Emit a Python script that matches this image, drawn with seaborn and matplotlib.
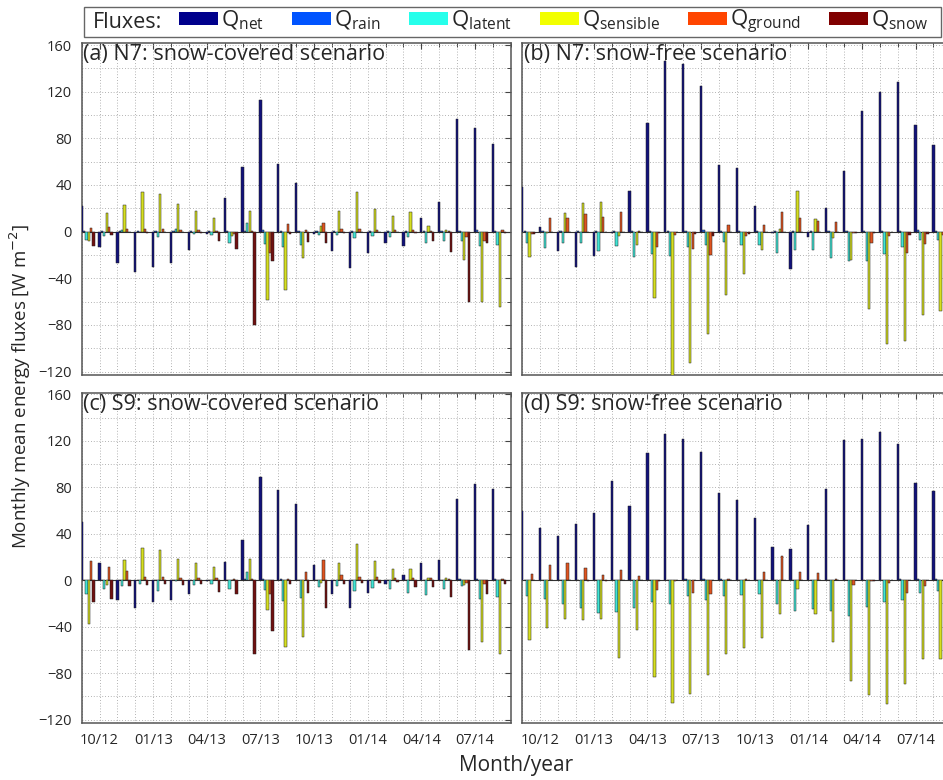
import numpy as np
import pandas as pd
import matplotlib
matplotlib.use("Agg")
import matplotlib.pyplot as plt
from matplotlib.patches import Patch, Rectangle
from matplotlib.ticker import FixedLocator, MultipleLocator
import seaborn as sns

sns.set_style("white")
plt.rcParams["font.family"] = ["Open Sans", "DejaVu Sans"]

# ---- months (Sep 2012 - Aug 2014) and tick labels ----
month_labels = ["09/12", "10/12", "11/12", "12/12", "01/13", "02/13", "03/13", "04/13",
                "05/13", "06/13", "07/13", "08/13", "09/13", "10/13", "11/13", "12/13",
                "01/14", "02/14", "03/14", "04/14", "05/14", "06/14", "07/14", "08/14"]
tick_labels = ["10/12", "01/13", "04/13", "07/13", "10/13", "01/14", "04/14", "07/14"]

flux_labels = [r"Q$_\mathregular{net}$", r"Q$_\mathregular{rain}$", r"Q$_\mathregular{latent}$",
               r"Q$_\mathregular{sensible}$", r"Q$_\mathregular{ground}$", r"Q$_\mathregular{snow}$"]

# ---- (a) N7: snow-covered scenario ----
a_net = [22, -13, -27, -35, -30, -27, -16, -2, 29, 55, 113, 58, 42, -2, -17, -31, -18, -10, -12, 12, 25, 97, 89, 75]
a_rain = [0.3, 0.2, 0.1, 0.1, 0.1, 0.2, 0.2, 0.3, 0.5, 0.8, 1.0, 0.8, 0.5, 0.3, 0.2, 0.1, 0.1, 0.2, 0.2, 0.4, 0.6, 0.9, 1.0, 0.7]
a_latent = [-7, -4, 1, -0.5, -5, 2, -2.3, -3, -9.7, 7.4, -10.9, -13.4, -11.4, -3, -3, -5.4, -3.7, -5, -4.6, -9.7, -7.7, -8.3, -12.6, -11.4]
a_sensible = [-7.7, 16, 23, 34, 32, 24, 18, 11.4, -4, 18, -58.6, -49.7, -22.6, 4.6, 17.4, 34, 19.7, 13, 16.6, 4.9, 1, -24.3, -60, -64.9]
a_ground = [3.4, 4, 2.6, 2, 2, 1, 1, 0.3, -2, 0.5, -18, 6.9, 1, 7.4, 2.6, 2.3, 1.5, 1.5, 1, 0.3, 0.3, -4.9, -7.7, 1.7]
a_snow = [-12, -3, 0, -1, -0.5, 0, -1, -8, -15, -80, -25, -2.3, -9, -10, -1, 0, 0, 0, -1, -7.7, -17.4, -60, -9.7, -1]

# ---- (b) N7: snow-free scenario ----
b_net = [38, 4.3, -16.6, -30.3, -20.6, -1, 35, 93, 146, 144, 124.6, 57, 54.3, 22.3, -1, -31.7, -4.9, 20, 52, 103.7, 119.4, 128.3, 91.4, 74.3]
b_rain = [0.3, 0.2, 0.1, 0.1, 0.1, 0.2, 0.2, 0.3, 0.5, 0.8, 1.0, 0.8, 0.5, 0.3, 0.2, 0.1, 0.1, 0.2, 0.2, 0.4, 0.6, 0.9, 1.0, 0.7]
b_latent = [-9.7, -14.3, -10, -9.4, -17, -12, -21.7, -19, -21, -13.4, -11.4, -8.6, -11.7, -11.7, -18, -16, -15.7, -22.9, -25, -25, -18.9, -13, -7.4, -7.4]
b_sensible = [-22, -1, 16.3, 24.9, 25.7, -3.7, -11.7, -56.9, -124, -113, -88, -54, -36.3, -16, 2.3, 35, 10.9, -5.7, -24.3, -66.6, -96.6, -93.7, -71.4, -68]
b_ground = [-2, 11.4, 11.7, 15.4, 12.3, 17.1, 0.5, -13.4, -2.9, -14.9, -19.7, 5.4, -3.4, 6, 16.9, 12, 9.1, 8, -1, -9.7, -3.4, -18.3, -10.9, -3]
b_snow = [-1.7, 0, 0, 0, 0, 0, 0, -1.1, 0, -2, -3.4, 0, -2, 0, 0, 0, 0, 0, -1, -1, 0, -3, -2, -1]

# ---- (c) S9: snow-covered scenario ----
c_net = [49.7, 14.9, -16.9, -24, -18.6, -17.4, -11.7, -0.5, 16, 34.3, 88.9, 77.4, 65.4, 13.4, -12.3, -24.3, -11.1, -3.1, 4.9, 14.9, 17.4, 70.3, 82.9, 78.3]
c_rain = [0.3, 0.2, 0.1, 0.1, 0.1, 0.2, 0.2, 0.3, 0.5, 0.8, 1.0, 0.8, 0.5, 0.3, 0.2, 0.1, 0.1, 0.2, 0.2, 0.4, 0.6, 0.9, 1.0, 0.7]
c_latent = [-12.3, -7.7, -5.1, -3.4, -8.9, -0.5, -4.3, -3.4, -7.4, 7.4, -8.6, -18, -15, -6, -5.1, -8.9, -6.3, -8, -11.1, -13.1, -7.7, -5.4, -16.6, -14.6]
c_sensible = [-37.4, -4, 17.4, 27.4, 26, 18.3, 15.1, 11.1, 0.5, 18, -25.7, -57.7, -48.6, -2.3, 14.9, 31.1, 16.3, 9.4, 9.4, 1.7, 1.7, -4.3, -53, -63.4]
c_ground = [16.9, 11.4, 8, 2.6, 2.9, 2, 2.3, 1.7, 1.4, 1.4, -12, 0.9, 7.4, 17.4, 4.3, 3.1, 2.6, 2, 1.7, 1.7, 1.4, -2.3, -2.9, 1.1]
c_snow = [-18.6, -16.6, -5.4, -4.3, -2.9, -4.3, -2.9, -10.3, -11.7, -63.4, -43.4, -3.7, -10.9, -24, -2.9, -2.3, -2.6, -1.7, -6, -6, -14.6, -59.7, -12.3, -2.9]

# ---- (d) S9: snow-free scenario ----
d_net = [60, 45.1, 38.3, 48, 57.7, 85.7, 63.7, 109.4, 126.3, 122, 110.6, 75.4, 69.4, 53.4, 28.6, 26.9, 47.7, 78.9, 120.9, 122, 127.4, 116.9, 83.7, 77.1]
d_rain = [0.3, 0.2, 0.1, 0.1, 0.1, 0.2, 0.2, 0.3, 0.5, 0.8, 1.0, 0.8, 0.5, 0.3, 0.2, 0.1, 0.1, 0.2, 0.2, 0.4, 0.6, 0.9, 1.0, 0.7]
d_latent = [-13.4, -16.3, -20.3, -23.7, -28, -27.1, -23.7, -18.6, -20.3, -14, -17.1, -13.4, -12.9, -11.7, -20.6, -26.3, -24.6, -26.6, -30.9, -22.9, -18.6, -16.9, -10.6, -9.1]
d_sensible = [-51.7, -41.4, -33.1, -34.3, -33.7, -67.4, -43.1, -83.4, -106, -98, -82, -63.7, -58.6, -49.4, -28.9, -7.4, -29.1, -52.9, -86.6, -98.9, -106.6, -89.4, -68, -68]
d_ground = [5.7, 13.1, 14.6, 10.3, 4.9, 8.9, 3.4, -8.3, -1, -10.6, -12, 1.1, 1.4, 7.1, 20.9, 7.1, 6.6, 1.1, -4, -1.1, -2.6, -10.9, -5.1, 0.5]
d_snow = [0, 0, 0, -1, -1, 0, 0, -0.5, 0, 0, 0, 0, 0, 0, 0, 0, 0, 0, 0, -1, 0, 0, 0, 0]

panel_titles = ["(a) N7: snow-covered scenario", "(b) N7: snow-free scenario",
                "(c) S9: snow-covered scenario", "(d) S9: snow-free scenario"]
panel_series = [
    [a_net, a_rain, a_latent, a_sensible, a_ground, a_snow],
    [b_net, b_rain, b_latent, b_sensible, b_ground, b_snow],
    [c_net, c_rain, c_latent, c_sensible, c_ground, c_snow],
    [d_net, d_rain, d_latent, d_sensible, d_ground, d_snow],
]

# jet-like flux colours
palette = [(0.0, 0.0, 0.55), (0.0, 0.33, 1.0), (0.15, 1.0, 0.92),
           (0.95, 1.0, 0.0), (1.0, 0.27, 0.0), (0.5, 0.0, 0.0)]

fig = plt.figure(figsize=(9.43, 7.8), dpi=100)
W, H = 943.0, 780.0
left_x, right_x, panel_w = 81.7 / W, 522.3 / W, 429.0 / W
top_y0, top_h = 1 - 375.0 / H, (375.0 - 43.3) / H
bot_y0, bot_h = 1 - 723.0 / H, (723.0 - 392.7) / H
axes = [fig.add_axes([left_x, top_y0, panel_w, top_h]),
        fig.add_axes([right_x, top_y0, panel_w, top_h]),
        fig.add_axes([left_x, bot_y0, panel_w, bot_h]),
        fig.add_axes([right_x, bot_y0, panel_w, bot_h])]

n_months = len(month_labels)
group_width = 0.8
# month boundary sits under the first bar of each group
shift = group_width / 2 - group_width / (2 * len(flux_labels))
tick_idx = [month_labels.index(t) for t in tick_labels]
grid_style = dict(linestyle=(0, (1, 2.4)), color="#9a9a9a", linewidth=0.6)

for k, (ax, title, series) in enumerate(zip(axes, panel_titles, panel_series)):
    df = pd.DataFrame({
        "month": np.tile(np.arange(n_months), len(flux_labels)),
        "flux": np.repeat(flux_labels, n_months),
        "value": np.concatenate([np.asarray(s, dtype=float) for s in series]),
    })
    sns.barplot(data=df, x="month", y="value", hue="flux", hue_order=flux_labels,
                palette=palette, native_scale=True, width=group_width, gap=0.04,
                errorbar=None, edgecolor="#202020", linewidth=0.35, legend=False,
                ax=ax, zorder=3)
    ax.axhline(0, color="#333333", linewidth=0.8, zorder=2)
    ax.set_xlim(-shift, n_months - shift)
    ax.set_ylim(-123, 161.5)
    ax.set_xticks(np.array(tick_idx) - shift)
    ax.set_xticklabels(tick_labels)
    ax.xaxis.set_minor_locator(FixedLocator(np.arange(n_months + 1) - shift))
    ax.yaxis.set_major_locator(MultipleLocator(40))
    ax.yaxis.set_minor_locator(MultipleLocator(20))
    ax.grid(True, which="both", axis="both", **grid_style)
    ax.set_axisbelow(True)
    ax.set_xlabel("")
    ax.set_ylabel("")
    ax.tick_params(which="both", direction="in", top=True, right=True,
                   color="#444444", labelsize=10.5, pad=7)
    ax.tick_params(which="major", length=4, width=0.8)
    ax.tick_params(which="minor", length=3, width=0.7)
    for sp in ax.spines.values():
        sp.set_color("#555555")
        sp.set_linewidth(1.1)
    if k in (1, 3):
        ax.tick_params(labelleft=False)
    if k in (0, 1):
        ax.tick_params(labelbottom=False)
    ax.text(0.003, 0.997, title, transform=ax.transAxes, ha="left", va="top",
            fontsize=15.5, zorder=5)

fig.text(0.022, 1 - 386 / H, r"Monthly mean energy fluxes [W m$^{-2}$]", rotation=90,
         ha="center", va="center", fontsize=13.5)
fig.text(516 / W, 1 - 766 / H, "Month/year", ha="center", va="center", fontsize=15)

# legend box across the top
fig.patches.append(Rectangle((84 / W, 1 - 37 / H), (941 - 84) / W, 30 / H,
                             transform=fig.transFigure, facecolor="white",
                             edgecolor="#666666", linewidth=1.0))
fig.text(93 / W, 1 - 22 / H, "Fluxes:", ha="left", va="center", fontsize=15.5)
handles = [Patch(facecolor=c, edgecolor="none") for c in palette]
fig.legend(handles, flux_labels, loc="center left", bbox_to_anchor=(179 / W, 1 - 22 / H),
           ncol=6, frameon=False, fontsize=16, handlelength=1.75, handleheight=0.5,
           handletextpad=0.15, columnspacing=1.25, borderpad=0.0, borderaxespad=0.0)

fig.savefig("out.png", dpi=100)
